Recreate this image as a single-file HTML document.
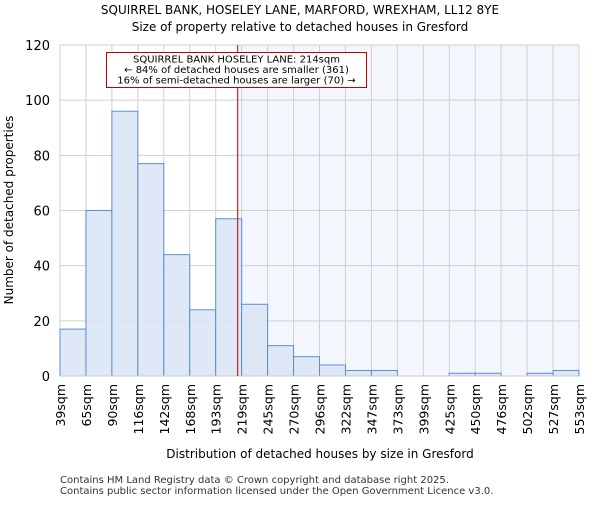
<!DOCTYPE html>
<html><head><meta charset="utf-8"><style>
body{margin:0;background:#fff}
svg text{font-family:"DejaVu Sans","Liberation Sans",sans-serif}
</style></head><body>
<svg id="c" width="600" height="500" xmlns="http://www.w3.org/2000/svg">
<text x="300" y="14" text-anchor="middle" font-size="12">SQUIRREL BANK, HOSELEY LANE, MARFORD, WREXHAM, LL12 8YE</text>
<text x="300" y="31" text-anchor="middle" font-size="12">Size of property relative to detached houses in Gresford</text>
<g id="plot"></g>
<text x="320" y="458" text-anchor="middle" font-size="12">Distribution of detached houses by size in Gresford</text>
<text transform="translate(13,210) rotate(-90)" text-anchor="middle" font-size="12">Number of detached properties</text>
<text x="60" y="483" font-size="10" fill="#333">Contains HM Land Registry data © Crown copyright and database right 2025.</text>
<text x="60" y="494" font-size="10" fill="#333">Contains public sector information licensed under the Open Government Licence v3.0.</text>
</svg>
<script>
const binLabels=["39sqm","65sqm","90sqm","116sqm","142sqm","168sqm","193sqm","219sqm","245sqm","270sqm","296sqm","322sqm","347sqm","373sqm","399sqm","425sqm","450sqm","476sqm","502sqm","527sqm","553sqm"];
const counts=[17,60,96,77,44,24,57,26,11,7,4,2,2,0,0,1,1,0,1,2];
const yTicks=[0,20,40,60,80,100,120];
const subjectSize=214;
const minSize=39, maxSize=553;
const X0=60,X1=579,Y0=376,Y1=45,YMAX=120;
const ns="http://www.w3.org/2000/svg";
const g=document.getElementById('plot');
const n=counts.length, bw=(X1-X0)/n;
const xi=i=>X0+i*bw;
const xs=v=>X0+(v-minSize)/(maxSize-minSize)*(X1-X0);
const y=v=>Y0-v/YMAX*(Y0-Y1);
function mk(t,a){const e=document.createElementNS(ns,t);for(const k in a)e.setAttribute(k,a[k]);g.appendChild(e);return e;}
const mx=xs(subjectSize)+1;
let e=mk('rect',{x:mx,y:Y1,width:X1-mx,height:Y0-Y1,fill:'#f3f6fd'});


for(let i=0;i<=n;i++){e=mk('line',{x1:xi(i),x2:xi(i),y1:Y1,y2:Y0,stroke:'#d0d0d0'});

}
yTicks.forEach(t=>{e=mk('line',{x1:X0,x2:X1,y1:y(t),y2:y(t),stroke:'#d0d0d0'});


e=mk('text',{x:X0-10,y:y(t)+5,'text-anchor':'end','font-size':'13'});e.textContent=t;

});
counts.forEach((c,i)=>{if(c<=0)return;e=mk('rect',{x:xi(i),y:y(c),width:bw,height:Y0-y(c),fill:'#dce6f5','fill-opacity':0.9,stroke:'#5b8fd6','stroke-width':1});

});
binLabels.forEach((l,i)=>{e=mk('text',{transform:`translate(${xi(i)+5},384) rotate(-90)`,'text-anchor':'end','font-size':'12.5'});e.textContent=l;

});
e=mk('line',{x1:X0,x2:X1,y1:Y0,y2:Y0,stroke:'#ccc'});


e=mk('line',{x1:mx,x2:mx,y1:Y1,y2:Y0,stroke:'#c00000','stroke-width':1});


e=mk('rect',{x:106.5,y:52.5,width:260,height:35,fill:'#fff',stroke:'#c00000'});


["SQUIRREL BANK HOSELEY LANE: 214sqm","← 84% of detached houses are smaller (361)","16% of semi-detached houses are larger (70) →"].forEach((t,k)=>{
e=mk('text',{x:236.5,y:62.5+k*10.5,'text-anchor':'middle','font-size':'10'});e.textContent=t;

});
</script>
</body></html>
